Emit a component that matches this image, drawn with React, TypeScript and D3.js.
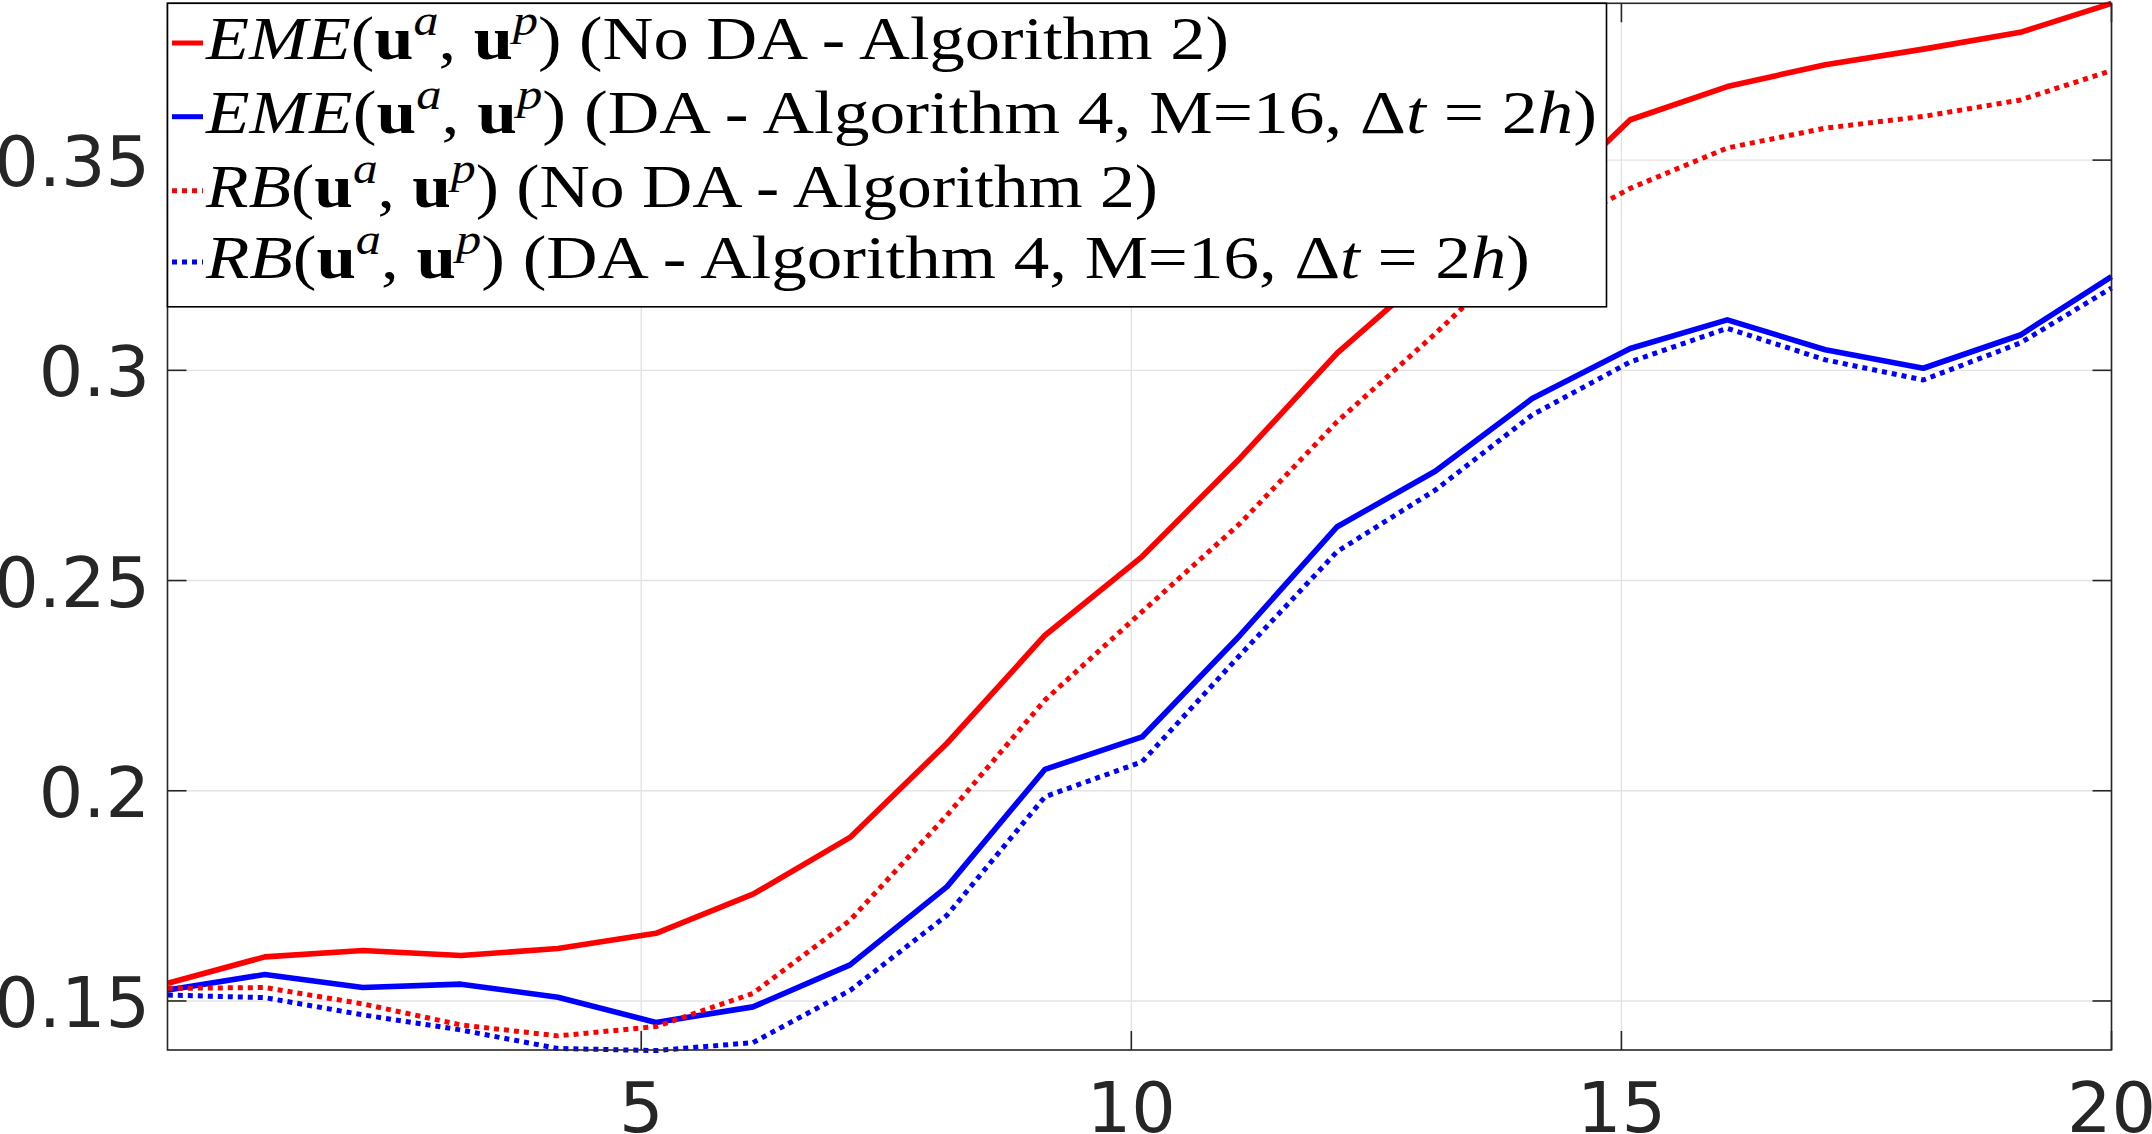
import * as d3 from "d3";

// sample times
const times = [0.17, 1.16, 2.16, 3.16, 4.15, 5.15, 6.14, 7.13, 8.12, 9.12, 10.11, 11.11, 12.1, 13.1, 14.09, 15.09, 16.08, 17.08, 18.08, 19.07, 20];

const emeNoDA = [0.1542, 0.1605, 0.162, 0.1608, 0.1625, 0.1661, 0.1754, 0.1889, 0.2113, 0.237, 0.2557, 0.2791, 0.3041, 0.3245, 0.3372, 0.3596, 0.3675, 0.3727, 0.3764, 0.3804, 0.3873];
const emeDA = [0.1526, 0.1563, 0.1532, 0.154, 0.1509, 0.1449, 0.1486, 0.1586, 0.1772, 0.2051, 0.2128, 0.237, 0.2628, 0.276, 0.2933, 0.3052, 0.312, 0.3049, 0.3005, 0.3084, 0.3223];
const rbNoDA = [0.153, 0.1532, 0.1493, 0.1443, 0.1417, 0.1439, 0.1518, 0.1692, 0.1942, 0.2216, 0.2426, 0.2636, 0.2878, 0.3087, 0.3306, 0.3433, 0.3529, 0.3576, 0.3604, 0.3643, 0.3713];
const rbDA = [0.1514, 0.1508, 0.1467, 0.1431, 0.1387, 0.1382, 0.1401, 0.1525, 0.1704, 0.1986, 0.2069, 0.2323, 0.2569, 0.2715, 0.2894, 0.302, 0.31, 0.3025, 0.2977, 0.3065, 0.3196];

const xTicks = [5, 10, 15, 20];
const yTicks = [0.15, 0.2, 0.25, 0.3, 0.35];
const yTickLabels = ["0.15", "0.2", "0.25", "0.3", "0.35"];

const seriesNames = ["EME", "EME", "RB", "RB"];
const seriesNotes = [
  " (No DA - Algorithm 2)",
  " (DA - Algorithm 4, M=16, ",
  " (No DA - Algorithm 2)",
  " (DA - Algorithm 4, M=16, ",
];
const seriesColors = ["#ff0000", "#0000ff", "#ff0000", "#0000ff"];
const seriesDotted = [false, false, true, true];
const seriesValues = [emeNoDA, emeDA, rbNoDA, rbDA];

const W = 2152;
const H = 1134;
const margin = { left: 167.5, right: 40.5, top: 3.3, bottom: 84 };

export default function App() {
  const x = d3.scaleLinear().domain([1 / 6, 20]).range([margin.left, W - margin.right]);
  const y = d3.scaleLinear().domain([0.13834, 0.3873]).range([H - margin.bottom, margin.top]);

  const line = d3
    .line<number>()
    .x((_, i) => x(times[i]))
    .y((d) => y(d));

  const x0 = margin.left;
  const x1 = W - margin.right;
  const y0 = margin.top;
  const y1 = H - margin.bottom;
  const tickLen = 19;
  const axisColor = "#262626";

  // legend geometry
  const lg = { x: 167.5, y: 3.3, w: 1439, h: 303.5 };
  const rowBase = [59, 132.7, 206.7, 278];
  const rowWidths = [1023, 1391, 952, 1324];

  return (
    <svg width={W} height={H} style={{ position: "absolute", left: 0, top: 0, display: "block", background: "#fff" }}>
      {/* grid */}
      <g stroke="#e3e3e3" strokeWidth={1.4}>
        {xTicks.map((t) => (
          <line key={"gx" + t} x1={x(t)} x2={x(t)} y1={y0} y2={y1} />
        ))}
        {yTicks.map((t) => (
          <line key={"gy" + t} x1={x0} x2={x1} y1={y(t)} y2={y(t)} />
        ))}
      </g>

      {/* series */}
      {seriesValues.map((vals, i) => (
        <path
          key={"s" + i}
          d={line(vals) || ""}
          fill="none"
          stroke={seriesColors[i]}
          strokeWidth={seriesDotted[i] ? 5 : 5.6}
          strokeLinejoin="round"
          strokeDasharray={seriesDotted[i] ? "5 5" : undefined}
        />
      ))}

      {/* axes box + ticks */}
      <g stroke={axisColor} strokeWidth={1.6}>
        <rect x={x0} y={y0} width={x1 - x0} height={y1 - y0} fill="none" />
        {xTicks.map((t) => (
          <g key={"tx" + t}>
            <line x1={x(t)} x2={x(t)} y1={y1} y2={y1 - tickLen} />
            <line x1={x(t)} x2={x(t)} y1={y0} y2={y0 + tickLen} />
          </g>
        ))}
        {yTicks.map((t) => (
          <g key={"ty" + t}>
            <line x1={x0} x2={x0 + tickLen} y1={y(t)} y2={y(t)} />
            <line x1={x1} x2={x1 - tickLen} y1={y(t)} y2={y(t)} />
          </g>
        ))}
      </g>

      {/* tick labels */}
      <g fill={axisColor} fontFamily="DejaVu Sans" fontSize={70}>
        {xTicks.map((t) => (
          <text key={"lx" + t} x={x(t)} y={1132} textAnchor="middle">
            {t}
          </text>
        ))}
        {yTicks.map((t, i) => (
          <text key={"ly" + t} x={150} y={y(t) + 26} textAnchor="end">
            {yTickLabels[i]}
          </text>
        ))}
      </g>

      {/* legend */}
      <rect x={lg.x} y={lg.y} width={lg.w} height={lg.h} fill="#fff" stroke="#000" strokeWidth={1.6} />
      {seriesNames.map((name, i) => (
        <g key={"lg" + i}>
          <line
            x1={172}
            x2={203}
            y1={rowBase[i] - 16}
            y2={rowBase[i] - 16}
            stroke={seriesColors[i]}
            strokeWidth={5}
            strokeDasharray={seriesDotted[i] ? "5 5" : undefined}
          />
          <text
            x={206}
            y={rowBase[i]}
            fontFamily="Liberation Serif"
            fontSize={62}
            fill="#000"
            textLength={rowWidths[i]}
            lengthAdjust="spacingAndGlyphs"
            style={{ whiteSpace: "pre" }}
          >
            <tspan fontStyle="italic">{name}</tspan>
            <tspan>(</tspan>
            <tspan fontWeight="bold">u</tspan>
            <tspan fontStyle="italic" fontSize={44} dy={-24}>a</tspan>
            <tspan dy={24}>, </tspan>
            <tspan fontWeight="bold">u</tspan>
            <tspan fontStyle="italic" fontSize={44} dy={-24}>p</tspan>
            <tspan dy={24}>)</tspan>
            <tspan>{seriesNotes[i]}</tspan>
            {i % 2 === 1 ? (
              <>
                <tspan>Δ</tspan>
                <tspan fontStyle="italic">t</tspan>
                <tspan> = 2</tspan>
                <tspan fontStyle="italic">h</tspan>
                <tspan>)</tspan>
              </>
            ) : null}
          </text>
        </g>
      ))}
    </svg>
  );
}
